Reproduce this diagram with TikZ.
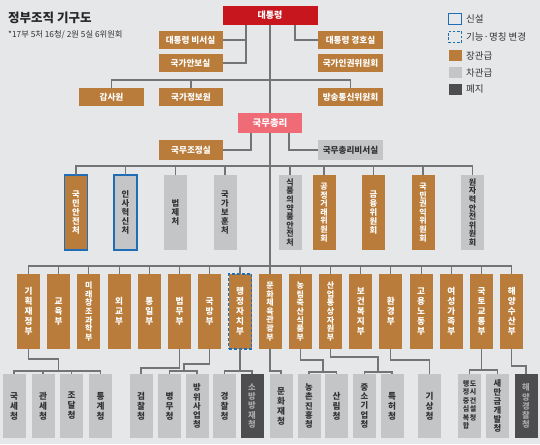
\documentclass[tikz,border=0pt]{standalone}
\usepackage{fontspec}
\newfontfamily\cjk{Noto Sans CJK KR}
\definecolor{bg}{HTML}{E6E7E8}
\definecolor{corg}{HTML}{B97C3B}
\definecolor{cgry}{HTML}{C4C5C7}
\definecolor{cdrk}{HTML}{4D4D4F}
\definecolor{cred}{HTML}{C8161E}
\definecolor{cpnk}{HTML}{EF6B75}
\definecolor{cblu}{HTML}{1F6DB6}
\definecolor{cline}{HTML}{737476}
\definecolor{ctxt}{HTML}{333333}
\definecolor{cdtx}{HTML}{A8A8AA}
\begin{document}
\begin{tikzpicture}[x=1pt,y=-1pt,
  hb/.style={rectangle,inner sep=0pt,outer sep=0pt,minimum width=64pt,minimum height=18pt,font=\cjk\bfseries\fontsize{8.6}{9.6}\selectfont},
  org/.style={fill=corg,text=white},
  gry/.style={fill=cgry,text=ctxt},
  drk/.style={fill=cdrk,text=cdtx},
  vb/.style={rectangle,inner sep=0pt,outer sep=0pt,minimum width=23pt,minimum height=75pt,align=center,font=\cjk\bfseries\fontsize{8.6}{10}\selectfont},
  cb/.style={vb,minimum height=64pt},
  tight/.style={font=\cjk\bfseries\fontsize{8}{8.6}\selectfont},
  mid/.style={font=\cjk\bfseries\fontsize{8.3}{9.1}\selectfont},
  newb/.style={draw=cblu,line width=1.6pt},
  chgb/.style={draw=cblu,line width=1.6pt,dash pattern=on 3pt off 2pt},
  conn/.style={draw=cline,line width=1.1pt},
  lgt/.style={anchor=west,inner sep=0pt,text=ctxt,font=\cjk\fontsize{9.5}{11}\selectfont},
  lgb/.style={rectangle,inner sep=0pt,outer sep=0pt,minimum width=13pt,minimum height=11pt}
]
\fill[bg] (0,0) rectangle (540,444);
\useasboundingbox (0,0) rectangle (540,444);

% title
\node[anchor=west,inner sep=0pt,text=black!85,font=\cjk\bfseries\fontsize{12.5}{14}\selectfont] (title) at (8,18) {정부조직 기구도};
\node[anchor=west,inner sep=0pt,text=black!80,font=\cjk\fontsize{8.3}{9}\selectfont] (sub) at (8,35) {*17부 5처 16청/ 2원 5실 6위원회};

% legend
\node[lgb,draw=cblu,line width=1.5pt] (lg1) at (455,19) {};
\node[lgt] (lt1) at (466,19) {신설};
\node[lgb,draw=cblu,line width=1.5pt,dash pattern=on 2.5pt off 1.8pt] (lg2) at (455,37) {};
\node[lgt] (lt2) at (466,37) {기능·명칭 변경};
\node[lgb,fill=corg] (lg3) at (455,55.5) {};
\node[lgt] (lt3) at (466,55.5) {장관급};
\node[lgb,fill=cgry] (lg4) at (455,72.5) {};
\node[lgt] (lt4) at (466,72.5) {차관급};
\node[lgb,fill=cdrk] (lg5) at (455,89) {};
\node[lgt] (lt5) at (466,89) {폐지};

% top level
\node[hb,fill=cred,text=white,minimum width=95pt,minimum height=19pt,font=\cjk\bfseries\fontsize{9}{10}\selectfont] (pres) at (270,15.5) {대통령};
\node[hb,org] (sec) at (190.5,40) {대통령 비서실};
\node[hb,org] (nsc) at (190.5,63) {국가안보실};
\node[hb,org,minimum width=65pt] (guard) at (350.5,40) {대통령 경호실};
\node[hb,org,minimum width=65pt] (nhrc) at (350.5,63) {국가인권위원회};
\node[hb,org,minimum width=65pt] (audit) at (111.5,97) {감사원};
\node[hb,org] (nis) at (191,97) {국가정보원};
\node[hb,org,minimum width=65pt] (kcc) at (350.5,97) {방송통신위원회};
\node[hb,fill=cpnk,text=white,minimum height=20pt,font=\cjk\bfseries\fontsize{9.5}{10}\selectfont] (pm) at (270,123) {국무총리};
\node[hb,org,minimum height=20pt] (opc) at (191,150) {국무조정실};
\node[hb,gry,minimum width=65pt,minimum height=20pt] (pmsec) at (350.5,150) {국무총리비서실};

% cheo / committees row
\node[vb,org,newb,mid] (c1) at (76,212.5) {국\\민\\안\\전\\처};
\node[vb,gry,newb,mid] (c2) at (125.5,212.5) {인\\사\\혁\\신\\처};
\node[vb,gry,mid] (c3) at (175.5,212.5) {법\\제\\처};
\node[vb,gry,mid] (c4) at (225,212.5) {국\\가\\보\\훈\\처};
\node[vb,gry,tight] (c5) at (290,212.5) {식\\품\\의\\약\\품\\안\\전\\처};
\node[vb,org,tight] (c6) at (324,212.5) {공\\정\\거\\래\\위\\원\\회};
\node[vb,org,mid] (c7) at (373.5,212.5) {금\\융\\위\\원\\회};
\node[vb,org,tight] (c8) at (423,212.5) {국\\민\\권\\익\\위\\원\\회};
\node[vb,gry,tight] (c9) at (472.5,212.5) {원\\자\\력\\안\\전\\위\\원\\회};

% ministries row
\node[vb,org] (b1) at (28.5,311.5) {기\\획\\재\\정\\부};
\node[vb,org] (b2) at (58.7,311.5) {교\\육\\부};
\node[vb,org,tight] (b3) at (88.9,311.5) {미\\래\\창\\조\\과\\학\\부};
\node[vb,org] (b4) at (119.1,311.5) {외\\교\\부};
\node[vb,org] (b5) at (149.3,311.5) {통\\일\\부};
\node[vb,org] (b6) at (179.5,311.5) {법\\무\\부};
\node[vb,org] (b7) at (209.7,311.5) {국\\방\\부};
\node[vb,org,chgb] (b8) at (240,311.5) {행\\정\\자\\치\\부};
\node[vb,org,tight] (b9) at (270,311.5) {문\\화\\체\\육\\관\\광\\부};
\node[vb,org,tight] (b10) at (300.3,311.5) {농\\림\\축\\산\\식\\품\\부};
\node[vb,org,tight] (b11) at (330.5,311.5) {산\\업\\통\\상\\자\\원\\부};
\node[vb,org] (b12) at (360.7,311.5) {보\\건\\복\\지\\부};
\node[vb,org] (b13) at (390.9,311.5) {환\\경\\부};
\node[vb,org] (b14) at (421.1,311.5) {고\\용\\노\\동\\부};
\node[vb,org] (b15) at (451.3,311.5) {여\\성\\가\\족\\부};
\node[vb,org] (b16) at (481.5,311.5) {국\\토\\교\\통\\부};
\node[vb,org] (b17) at (511.7,311.5) {해\\양\\수\\산\\부};

% agencies row
\node[cb,gry] (a1) at (14,406) {국\\세\\청};
\node[cb,gry] (a2) at (43,406) {관\\세\\청};
\node[cb,gry] (a3) at (71.5,406) {조\\달\\청};
\node[cb,gry] (a4) at (100.5,406) {통\\계\\청};
\node[cb,gry] (a5) at (141,406) {검\\찰\\청};
\node[cb,gry] (a6) at (169.5,406) {병\\무\\청};
\node[cb,gry,mid] (a7) at (197,406) {방\\위\\사\\업\\청};
\node[cb,gry] (a8) at (224.5,406) {경\\찰\\청};
\node[cb,drk,mid] (a9) at (252,406) {소\\방\\방\\재\\청};
\node[cb,gry] (a10) at (281,406) {문\\화\\재\\청};
\node[cb,gry,mid] (a11) at (309,406) {농\\촌\\진\\흥\\청};
\node[cb,gry] (a12) at (336.5,406) {산\\림\\청};
\node[cb,gry,mid] (a13) at (364.5,406) {중\\소\\기\\업\\청};
\node[cb,gry] (a14) at (392,406) {특\\허\\청};
\node[cb,gry] (a15) at (429.5,406) {기\\상\\청};
\node[cb,gry,font=\cjk\bfseries\fontsize{7}{8.5}\selectfont] (a16) at (469.5,406) {\begin{tabular}[t]{@{}c@{}}행\\정\\중\\심\\복\\합\end{tabular}\hspace{0.5pt}\begin{tabular}[t]{@{}c@{}}도\\시\\건\\설\\청\end{tabular}};
\node[cb,gry,mid] (a17) at (497.5,406) {새\\만\\금\\개\\발\\청};
\node[cb,drk,mid] (a18) at (526,406) {해\\양\\경\\찰\\청};

% connectors, top
\draw[conn] (pres.south) -- (pm.north);
\draw[conn] ([xshift=-24pt]pres.south) |- (sec.east);
\draw[conn] ([xshift=-24pt]pres.south) |- (nsc.east);
\draw[conn] ([xshift=25pt]pres.south) |- (guard.west);
\draw[conn] (audit.north) -- ++(0,-8) -| (kcc.north);
\draw[conn] (nis.north) -- ++(0,-8);
\draw[conn] ([xshift=-19pt]pm.south) |- (opc.east);
\draw[conn] ([xshift=19pt]pm.south) |- (pmsec.west);
\draw[conn] (pm.south) -- (b9.north);

% cheo bus
\draw[conn] (c1.north) -- ++(0,-9) -| (c9.north);
\foreach \n in {c2,c3,c4,c5,c6,c7,c8} \draw[conn] (\n.north) -- ++(0,-9);

% ministry bus
\draw[conn] (b1.north) -- ++(0,-8) -| (b17.north);
\foreach \n in {b2,b3,b4,b5,b6,b7,b8,b10,b11,b12,b13,b14,b15,b16} \draw[conn] (\n.north) -- ++(0,-8);

% agencies
\coordinate (j1) at (58.7,371);
\draw[conn] (b1.south) -- ++(0,10) -| (j1);
\draw[conn] (a1.north) -- ++(0,-3) -| (a4.north);
\draw[conn] (a2.north) -- ++(0,-3);
\draw[conn] (a3.north) -- ++(0,-3);

\draw[conn] (b6.south) -- ++(0,19) -| (a5.north);
\coordinate (j2) at (184,371);
\draw[conn] (b7.south) -- ++(0,15) -| (j2);
\draw[conn] (a6.north) -- ++(0,-3) -| (a7.north);

\draw[conn] (b8.south) -- ++(0,22);
\draw[conn] (a8.north) -- ++(0,-3) -| (a9.north);

\draw[conn] (b9.south) -- ++(0,22) -| (a10.north);

\coordinate (j3) at (323,372);
\draw[conn] (b10.south) -- ++(0,11) -| (j3);
\draw[conn] (a11.north) -- ++(0,-2) -| (a12.north);

\coordinate (j4) at (378,372);
\draw[conn] (b11.south) -- ++(0,8) -| (j4);
\draw[conn] (a13.north) -- ++(0,-2) -| (a14.north);

\draw[conn] (b13.south) -- ++(0,11) -| (a15.north);

\draw[conn] (b16.south) -- ++(0,21);
\draw[conn] (a16.north) -- ++(0,-4) -| (a17.north);

\draw[conn] (b17.south) -- ++(0,17) -| (a18.north);
\end{tikzpicture}
\end{document}
